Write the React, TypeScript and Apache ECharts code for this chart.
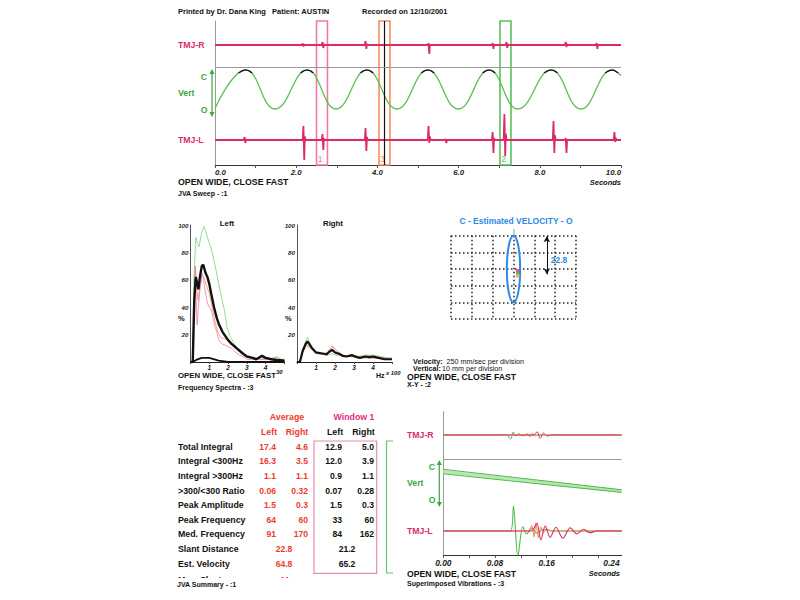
import React, { useEffect, useRef } from "react";
import * as echarts from "echarts";

const FONT = "Liberation Sans, Arial, Helvetica, sans-serif";
const PINK = "#dc2a6c";
const MAGENTA = "#e2307e";
const GREEN = "#3aa83a";
const SINE = "#5cbf52";
const LGREEN = "#8fd48a";
const LPINK = "#f07aa8";
const ORANGE = "#f2905e";
const BLUE = "#2d8ae6";
const RED = "#ee3b30";
const INK = "#111";

// ---------------- JVA sweep (seconds) ----------------
// [time s, upward deflection, downward deflection]
const sweepSpikesR = [
  [2.17, 1.5, 1.5], [2.66, 3, 3], [3.72, 4, 4], [5.27, 2, 9], [6.85, 2, 4],
  [7.19, 3, 3], [8.65, 3, 2], [9.41, 2, 4],
];
const sweepSpikesL = [
  [0.74, 3, 3], [2.19, 14, 20], [2.66, 6, 10], [3.72, 12, 11], [5.27, 14, 3],
  [5.69, 1, 3], [6.85, 8, 13], [7.14, 26, 16], [8.35, 19, 13], [8.65, 2, 13], [9.85, 8, 2],
];
const vertTimes = [0, 0.76, 1.48, 2.27, 2.98, 3.74, 4.48, 5.24, 5.99, 6.75, 7.46, 8.28, 9.01, 9.78, 10];
const vertLevels = [-0.97, 1, -1, 1, -1, 1, -1, 1, -1, 1, -1, 1, -1, 1, 0.72];
const windowLabels = ["1", "3", "2"];
const windowStarts = [2.5, 4.04, 7.02];
const windowEnds = [2.77, 4.31, 7.29];
const windowCursor = 4.18;
const sweepTickLabels = [0, 2, 4, 6, 8, 10];

// ---------------- Frequency spectra (Hz x 100, %) ----------------
const specLeftBlack = [[0,0],[0.12,0],[0.2,45],[0.28,62],[0.35,58],[0.42,53],[0.5,62],[0.6,70],[0.68,71],[0.8,65],[0.9,62],[1.0,57],[1.1,50],[1.25,40],[1.4,32],[1.5,28],[1.7,22],[2.0,16],[2.2,13],[2.5,9.5],[2.8,6],[3.0,4],[3.3,3],[3.5,2],[3.8,4.5],[4.0,3],[4.3,2],[4.6,1.5],[5,1]];
const specLeftBlackLow = [[0,0],[0.12,0],[0.3,1.5],[0.6,3],[1.0,3],[1.5,1],[2,0],[5,0]];
const specLeftGreen = [[0,0],[0.12,0],[0.18,60],[0.28,91],[0.35,88],[0.45,84],[0.6,95],[0.72,99],[0.85,93],[1.0,87],[1.15,80],[1.3,71],[1.5,57],[1.65,47],[1.8,38],[1.95,25],[2.1,19],[2.3,14],[2.5,9],[2.8,6],[3.0,4],[3.5,3],[4.0,3],[4.3,2.5],[4.6,4],[4.8,2],[5,2]];
const specLeftPink = [[0,0],[0.12,0],[0.2,50],[0.26,70],[0.3,45],[0.35,27],[0.42,40],[0.5,52],[0.62,65],[0.7,60],[0.8,50],[0.9,43],[1.0,40],[1.1,38],[1.2,32],[1.3,26],[1.4,22],[1.5,16],[1.7,13],[1.9,12],[2.0,11],[2.2,10],[2.4,7],[2.6,5],[2.8,4],[3.0,2],[3.5,2],[4,2],[5,1]];
const specLeftOrange = [[0,0],[0.12,0],[0.2,50],[0.26,70],[0.32,55],[0.4,45],[0.5,55],[0.6,63],[0.7,62],[0.85,56],[1.0,50],[1.15,40],[1.3,30],[1.45,22],[1.6,18],[1.8,17],[2.0,16],[2.2,14],[2.4,11],[2.6,8],[2.8,6],[3.0,4],[3.5,2.5],[4,2],[4.6,3],[5,1]];
const specRightBlack = [[0,0],[0.15,0],[0.3,8],[0.45,13],[0.55,15],[0.65,13],[0.8,10],[1.0,7],[1.2,6.5],[1.4,6],[1.55,5.5],[1.7,7.5],[1.85,8.8],[2.0,7],[2.2,6],[2.4,4.5],[2.6,4],[2.9,5],[3.05,4],[3.3,3],[3.6,4],[3.8,3.5],[4.0,4],[4.3,3],[4.6,2],[5,2]];
const specRightGreen = [[0,0],[0.15,0],[0.3,9],[0.45,15],[0.55,18],[0.65,15],[0.8,10],[1.0,7],[1.3,6],[1.6,5],[1.85,6],[2.0,5],[2.3,5],[2.6,4],[2.9,5.5],[3.2,4],[3.6,5],[4.0,5],[4.4,4],[4.8,3],[5,3]];
const specRightPink = [[0,0],[0.15,0],[0.3,8],[0.5,13],[0.65,11],[0.8,9],[1.0,6],[1.3,6],[1.6,6],[1.9,11],[2.1,8],[2.4,5],[2.8,4],[3.0,5],[3.4,3],[3.8,4],[4.2,3],[4.6,3],[5,2]];
const specRightOrange = [[0,0],[0.15,0],[0.3,7],[0.5,12],[0.7,10],[1.0,7],[1.3,6],[1.6,7],[1.85,12],[2.1,8],[2.4,5],[2.8,4],[3.2,3],[3.6,3],[4.0,2.5],[4.5,3],[5,2]];

// ---------------- X-Y velocity (mm/sec, mm) ----------------
const velEllipse = [0, 30, 80, 20]; // centre velocity, centre vertical, velocity radius, vertical radius
const velArrow = [400, 49.6, 26.8]; // velocity, top, bottom
const velArrowLabel = "22.8";
const velPoints = [[54, 29], [54, 27.6], [54, 25.8]];

// ---------------- JVA summary table ----------------
const rowLabels = ["Total Integral", "Integral <300Hz", "Integral >300Hz", ">300/<300 Ratio", "Peak Amplitude", "Peak Frequency", "Med. Frequency", "Slant Distance", "Est. Velocity", "Max. Slant"];
const avgLeft = ["17.4", "16.3", "1.1", "0.06", "1.5", "64", "91"];
const avgRight = ["4.6", "3.5", "1.1", "0.32", "0.3", "60", "170"];
const winLeft = ["12.9", "12.0", "0.9", "0.07", "1.5", "33", "84"];
const winRight = ["5.0", "3.9", "1.1", "0.28", "0.3", "60", "162"];
const avgSingle = ["22.8", "64.8", "44"];
const winSingle = ["21.2", "65.2", ""];

// ---------------- Superimposed vibrations (seconds, trace units) ----------------
const vibMax = 0.276;
const vibRGreen = [[0.098,0],[0.104,-4],[0.108,3],[0.112,-1],[0.117,1.5],[0.122,-1],[0.128,0]];
const vibROrange = [[0.125,0],[0.13,1.5],[0.134,-2],[0.138,2],[0.142,-1],[0.148,0]];
const vibRPink = [[0.14,0],[0.145,3.3],[0.15,-3.3],[0.155,2],[0.161,-1],[0.168,0]];
const vibLGreen = [[0.104,0],[0.1085,25],[0.1153,-25.7],[0.123,4.3],[0.129,-3],[0.137,2.7],[0.1447,-2.3],[0.155,1.7],[0.17,0]];
const vibLOrange = [[0.131,0],[0.137,5.5],[0.1406,-6],[0.1432,8.3],[0.1473,-7],[0.151,4],[0.155,-1.5],[0.16,1.5],[0.17,0]];
const vibLPink = [[0.136,0],[0.1447,7.7],[0.151,-9],[0.1576,5],[0.1654,-6.3],[0.1742,3.7],[0.185,-7.3],[0.1963,3.3],[0.2067,-3],[0.217,1.7],[0.227,-1.7],[0.2375,0]];
const vibVertBand = [
  [[0, 85.7], [0.138, 75.5], [0.276, 65.2]],
  [[0, 83.4], [0.138, 73.6], [0.276, 63.9]],
  [[0, 81.2], [0.138, 71.8], [0.276, 62.6]],
];

// ---- layout constants (track offsets in chart units) ----
const SW_R = 120, SW_V_LO = 56, SW_V_HI = 95, SW_GUIDE = 97.3, SW_L = 25;
const VB_R = 120, VB_GUIDE = 95.7, VB_L = 24;
const WINDOW_COLORS = [LPINK, ORANGE, "#5cc05c"];

function spikeTrace(spikes: number[][], base: number, tMax: number) {
  const pts: number[][] = [[0, base]];
  spikes.forEach(([t, up, dn]) => {
    pts.push([t - 0.03, base], [t - 0.012, base + up], [t + 0.008, base - dn], [t + 0.022, base + up * 0.25], [t + 0.04, base]);
  });
  pts.push([tMax, base]);
  return pts;
}
function offsetTrace(events: number[][], base: number, tMax: number) {
  return [[0, base], ...events.map(([t, a]) => [t, base + a]), [tMax, base]];
}

function txt(x: number, y: number, text: string, size: number, fill = INK, o: any = {}) {
  return {
    type: "text", x, y, z: o.z ?? 50, silent: true,
    style: {
      text, fill,
      font: `${o.italic ? "italic " : ""}${o.weight ?? "bold"} ${size}px ${FONT}`,
      textAlign: o.align ?? "left", textVerticalAlign: "middle",
    },
  };
}
function vArrow(x: number, y1: number, y2: number, color: string) {
  return [
    { type: "line", silent: true, shape: { x1: x, y1: y1 + 2, x2: x, y2: y2 - 2 }, style: { stroke: color, lineWidth: 1.2 } },
    { type: "polygon", silent: true, shape: { points: [[x, y1 - 1], [x - 2.5, y1 + 4], [x + 2.5, y1 + 4]] }, style: { fill: color } },
    { type: "polygon", silent: true, shape: { points: [[x, y2 + 1], [x - 2.5, y2 - 4], [x + 2.5, y2 - 4]] }, style: { fill: color } },
  ];
}

function buildOption() {
  const axisLbl = { fontFamily: FONT, fontWeight: "bold", fontStyle: "italic", color: "#222" };
  const vertData = vertTimes.map((t, i) => [t, SW_V_LO + ((vertLevels[i] + 1) / 2) * (SW_V_HI - SW_V_LO)]);
  const line = (xi: number, data: any, color: string | null, width: number, extra: any = {}) => ({
    type: "line", xAxisIndex: xi, yAxisIndex: xi, data, symbol: "none", showSymbol: false,
    lineStyle: color ? { color, width } : { width },
    ...(color ? { itemStyle: { color } } : {}),
    silent: true, ...extra,
  });

  const graphics: any[] = [];
  // header
  graphics.push(txt(178, 11, "Printed by Dr. Dana King", 7.5));
  graphics.push(txt(272, 11, "Patient: AUSTIN", 7.5));
  graphics.push(txt(362, 11, "Recorded on 12/10/2001", 7.5));
  // sweep labels
  graphics.push(txt(178, 45, "TMJ-R", 8.7, PINK));
  graphics.push(txt(204, 77, "C", 8.7, GREEN, { align: "center" }));
  graphics.push(txt(178, 93, "Vert", 8.7, GREEN));
  graphics.push(txt(204, 110, "O", 8.7, GREEN, { align: "center" }));
  graphics.push(txt(178, 140, "TMJ-L", 8.7, PINK));
  graphics.push(...vArrow(212, 70, 116, GREEN));
  graphics.push(txt(621, 182, "Seconds", 7.5, INK, { italic: true, align: "right" }));
  graphics.push(txt(178, 182, "OPEN WIDE, CLOSE FAST", 8.8));
  graphics.push(txt(178, 193, "JVA Sweep - :1", 7));
  // spectra labels
  graphics.push(txt(227, 223, "Left", 7.8, INK, { align: "center" }));
  graphics.push(txt(333, 223, "Right", 7.8, INK, { align: "center" }));
  graphics.push(txt(178, 318, "%", 7.5));
  graphics.push(txt(285, 318, "%", 7.5));
  graphics.push(txt(178, 375.5, "OPEN WIDE, CLOSE FAST", 7.8));
  graphics.push(txt(276, 372, "30", 6, INK, { italic: true }));
  graphics.push(txt(178, 387.5, "Frequency Spectra - :3", 7));
  graphics.push(txt(376, 375, "Hz", 7));
  graphics.push(txt(386, 373, "x 100", 5.8, INK, { italic: true }));
  // velocity labels
  graphics.push(txt(516, 221, "C - Estimated VELOCITY - O", 8.5, BLUE, { align: "center" }));
  graphics.push(txt(559, 260, velArrowLabel, 8.5, BLUE, { align: "center" }));
  graphics.push({ type: "line", silent: true, shape: { x1: 514, y1: 229, x2: 514, y2: 236 }, style: { stroke: "#999", lineWidth: 1 } });
  graphics.push(txt(413, 361, "Velocity:", 7.2));
  graphics.push(txt(446.5, 361, "250 mm/sec per division", 7.2, INK, { weight: "normal" }));
  graphics.push(txt(413, 368.5, "Vertical:", 7.2));
  graphics.push(txt(442, 368.5, "10 mm per division", 7.2, INK, { weight: "normal" }));
  graphics.push(txt(407, 377, "OPEN WIDE, CLOSE FAST", 8.7));
  graphics.push(txt(407, 384.5, "X-Y - :2", 7));
  // table
  graphics.push(txt(287, 417, "Average", 8.8, RED, { align: "center" }));
  graphics.push(txt(354, 417, "Window 1", 8.8, MAGENTA, { align: "center" }));
  graphics.push(txt(269, 432, "Left", 8.8, RED, { align: "center" }));
  graphics.push(txt(297, 432, "Right", 8.8, RED, { align: "center" }));
  graphics.push(txt(335, 432, "Left", 8.8, INK, { align: "center" }));
  graphics.push(txt(363.5, 432, "Right", 8.8, INK, { align: "center" }));
  const ROW0 = 446.8, STEP = 14.6;
  rowLabels.forEach((lab, i) => {
    const y = i === 9 ? 579.5 : ROW0 + i * STEP;
    graphics.push(txt(178, y, lab, 8.8));
    if (i < 7) {
      graphics.push(txt(276, y, avgLeft[i], 8.6, RED, { align: "right" }));
      graphics.push(txt(308, y, avgRight[i], 8.6, RED, { align: "right" }));
      graphics.push(txt(342, y, winLeft[i], 8.6, INK, { align: "right" }));
      graphics.push(txt(374, y, winRight[i], 8.6, INK, { align: "right" }));
    } else {
      graphics.push(txt(284, y, avgSingle[i - 7], 8.6, RED, { align: "center" }));
      if (winSingle[i - 7]) graphics.push(txt(347, y, winSingle[i - 7], 8.6, INK, { align: "center" }));
    }
  });
  graphics.push({ type: "rect", silent: true, z: 40, shape: { x: 314, y: 441, width: 62.7, height: 132.3 }, style: { fill: "none", stroke: "#e98ab0", lineWidth: 1.2 } });
  graphics.push({ type: "polyline", silent: true, z: 40, shape: { points: [[393, 441], [386.5, 441], [386.5, 573], [393, 573]] }, style: { fill: "none", stroke: "#6cc46c", lineWidth: 1.2 } });
  graphics.push({ type: "rect", silent: true, z: 60, shape: { x: 170, y: 578, width: 140, height: 16 }, style: { fill: "#fff" } });
  graphics.push(txt(177, 584, "JVA Summary - :1", 7, INK, { z: 70 }));
  // vibrations labels
  graphics.push(txt(407, 435, "TMJ-R", 8.7, PINK));
  graphics.push(txt(432, 467, "C", 8.7, GREEN, { align: "center" }));
  graphics.push(txt(407, 483, "Vert", 8.7, GREEN));
  graphics.push(txt(432, 500, "O", 8.7, GREEN, { align: "center" }));
  graphics.push(txt(407, 531, "TMJ-L", 8.7, PINK));
  graphics.push(...vArrow(439.3, 461, 506, GREEN));
  graphics.push(txt(620, 573.5, "Seconds", 7.5, INK, { italic: true, align: "right" }));
  graphics.push(txt(407, 573.5, "OPEN WIDE, CLOSE FAST", 8.7));
  graphics.push(txt(407, 583.5, "Superimposed Vibrations - :3", 7));

  const hiddenY = (gi: number, min: number, max: number, lineColor = "#999") => ({
    type: "value", gridIndex: gi, min, max,
    axisLine: { show: true, lineStyle: { color: lineColor, width: 1 } },
    axisTick: { show: false }, axisLabel: { show: false }, splitLine: { show: false },
  });
  const specX = (gi: number) => ({
    type: "value", gridIndex: gi, min: 0, max: 5, interval: 1,
    axisLine: { show: true, lineStyle: { color: "#222", width: 1 } },
    axisTick: { show: true, length: 2, lineStyle: { color: "#444" } },
    axisLabel: { ...axisLbl, fontSize: 6.6, margin: 2, formatter: (v: number) => (v >= 1 && v <= 4 ? String(v) : "") },
    splitLine: { show: false },
  });
  const specY = (gi: number) => ({
    type: "value", gridIndex: gi, min: 0, max: 100, interval: 20,
    axisLine: { show: true, lineStyle: { color: "#555", width: 1 } },
    axisTick: { show: false },
    axisLabel: { ...axisLbl, fontSize: 6.2, margin: 2, formatter: (v: number) => (v === 0 ? "" : String(v)) },
    splitLine: { show: false },
  });
  const dotted = { show: true, lineStyle: { color: "#222", type: [1.5, 2.5], width: 1.5 } };

  return {
    animation: false,
    backgroundColor: "#fff",
    textStyle: { fontFamily: FONT },
    grid: [
      { left: 215, top: 21, width: 406, height: 144 },
      { left: 190.5, top: 225, width: 94, height: 137 },
      { left: 297, top: 225, width: 95, height: 137 },
      { left: 451, top: 235.7, width: 125, height: 83.3 },
      { left: 443.3, top: 411.7, width: 178.4, height: 143.3 },
    ],
    xAxis: [
      {
        type: "value", gridIndex: 0, min: 0, max: 10, interval: 1,
        axisLine: { show: true, lineStyle: { color: "#333", width: 1 } },
        axisTick: { show: true, length: 3, lineStyle: { color: "#555" } },
        axisLabel: {
          ...axisLbl, fontSize: 7.8, margin: 3, alignMinLabel: "left", alignMaxLabel: "right",
          formatter: (v: number) => (sweepTickLabels.includes(v) ? v.toFixed(1) : ""),
        },
        splitLine: { show: false },
      },
      specX(1),
      specX(2),
      {
        type: "value", gridIndex: 3, min: -750, max: 750, interval: 250,
        axisLine: { show: false }, axisTick: { show: false }, axisLabel: { show: false },
        splitLine: dotted,
      },
      {
        type: "value", gridIndex: 4, min: 0, max: vibMax, interval: 0.04,
        axisLine: { show: true, lineStyle: { color: "#333", width: 1 } },
        axisTick: { show: true, length: 3, lineStyle: { color: "#555" } },
        axisLabel: {
          ...axisLbl, fontSize: 8.4, margin: 4, showMaxLabel: false,
          formatter: (v: number) => {
            const k = Math.round(v / 0.08);
            if (Math.abs(v / 0.08 - k) > 1e-6) return "";
            return k === 3 ? `{r|${v.toFixed(2)}}` : v.toFixed(2);
          },
          rich: { r: { ...axisLbl, fontSize: 8.4, padding: [0, 0, 0, 26] } },
        },
        splitLine: { show: false },
      },
    ],
    yAxis: [
      hiddenY(0, 0, 144),
      specY(1),
      specY(2),
      {
        type: "value", gridIndex: 3, min: 0, max: 50, interval: 10,
        axisLine: { show: false }, axisTick: { show: false }, axisLabel: { show: false },
        splitLine: dotted,
      },
      hiddenY(4, 0, 143.3),
    ],
    visualMap: [
      {
        type: "piecewise", show: false, seriesIndex: 1, dimension: 1,
        pieces: [
          { gt: SW_V_HI - 2.6, lte: 200, color: INK },
          { gte: -50, lte: SW_V_HI - 2.6, color: SINE },
        ],
      },
    ],
    series: [
      // 0 sweep TMJ-R + windows
      line(0, spikeTrace(sweepSpikesR, SW_R, 10), PINK, 1.8, {
        markArea: {
          silent: true,
          data: windowStarts.map((s, i) => [
            {
              xAxis: s,
              itemStyle: { color: "rgba(0,0,0,0)", borderColor: WINDOW_COLORS[i], borderWidth: 1.6 },
              label: { show: true, position: "insideBottomLeft", formatter: windowLabels[i], color: WINDOW_COLORS[i], fontSize: 8.5, distance: 2, fontFamily: FONT },
            },
            { xAxis: windowEnds[i] },
          ]),
        },
        markLine: {
          silent: true, symbol: "none", label: { show: false },
          lineStyle: { color: INK, type: "solid", width: 1.2 },
          data: [{ xAxis: windowCursor }],
        },
      }),
      // 1 sweep vertical (colour from visualMap: black caps at the closed position)
      line(0, vertData, null, 1.3, {
        smooth: 0.45,
        markLine: {
          silent: true, symbol: "none", label: { show: false },
          lineStyle: { color: "#9a9a9a", type: "solid", width: 1 },
          data: [{ yAxis: SW_GUIDE }],
        },
      }),
      // 2 sweep TMJ-L
      line(0, spikeTrace(sweepSpikesL, SW_L, 10), PINK, 1.8),
      // spectra left
      line(1, specLeftGreen, LGREEN, 0.9),
      line(1, specLeftOrange, ORANGE, 0.8),
      line(1, specLeftPink, LPINK, 0.8),
      line(1, specLeftBlackLow, INK, 1.8),
      line(1, specLeftBlack, INK, 2.4),
      // spectra right
      line(2, specRightGreen, LGREEN, 0.9),
      line(2, specRightOrange, ORANGE, 0.8),
      line(2, specRightPink, LPINK, 0.8),
      line(2, specRightBlack, INK, 2.2),
      // velocity ellipse
      {
        type: "custom", xAxisIndex: 3, yAxisIndex: 3, silent: true,
        data: [velEllipse],
        renderItem: (_p: any, api: any) => {
          const c = api.coord([api.value(0), api.value(1)]);
          const s = api.size([api.value(2), api.value(3)]);
          return {
            type: "ellipse",
            shape: { cx: c[0], cy: c[1], rx: s[0], ry: s[1] },
            style: { fill: "none", stroke: BLUE, lineWidth: 2 },
          };
        },
      },
      {
        type: "scatter", xAxisIndex: 3, yAxisIndex: 3, silent: true, symbol: "rect", symbolSize: [4, 3],
        data: velPoints.map((p, i) => ({ value: p, itemStyle: { color: [MAGENTA, GREEN, ORANGE][i] } })),
        markLine: {
          silent: true, symbol: ["arrow", "arrow"], symbolSize: [5, 6], label: { show: false },
          lineStyle: { color: INK, type: "solid", width: 1 },
          data: [[{ coord: [velArrow[0], velArrow[1]] }, { coord: [velArrow[0], velArrow[2]] }]],
        },
      },
      // vibrations
      line(4, offsetTrace(vibRGreen, VB_R, vibMax), "#4cb84a", 1, { smooth: 0.3 }),
      line(4, offsetTrace(vibROrange, VB_R, vibMax), ORANGE, 1, { smooth: 0.3 }),
      line(4, offsetTrace(vibRPink, VB_R, vibMax), PINK, 1, { smooth: 0.3 }),
      line(4, vibVertBand[1], "#b9e6b2", 3.2, {
        smooth: 0.3,
        markLine: {
          silent: true, symbol: "none", label: { show: false },
          lineStyle: { color: "#9a9a9a", type: "solid", width: 1 },
          data: [{ yAxis: VB_GUIDE }],
        },
      }),
      line(4, vibVertBand[0], "#4cb84a", 1, { smooth: 0.3 }),
      line(4, vibVertBand[2], "#4cb84a", 1, { smooth: 0.3 }),
      line(4, offsetTrace(vibLGreen, VB_L, vibMax), "#4cb84a", 1.1, { smooth: 0.3 }),
      line(4, offsetTrace(vibLOrange, VB_L, vibMax), ORANGE, 1.1, { smooth: 0.3 }),
      line(4, offsetTrace(vibLPink, VB_L, vibMax), PINK, 1.1, { smooth: 0.3 }),
    ],
    graphic: graphics,
  };
}

export default function App() {
  const ref = useRef<HTMLDivElement>(null);
  useEffect(() => {
    if (!ref.current) return;
    const chart = echarts.init(ref.current, undefined, { renderer: "svg" });
    chart.setOption(buildOption() as any);
    return () => chart.dispose();
  }, []);
  return (
    <div
      ref={ref}
      style={{ position: "fixed", left: 0, top: 0, width: 800, height: 600, background: "#fff" }}
    />
  );
}
